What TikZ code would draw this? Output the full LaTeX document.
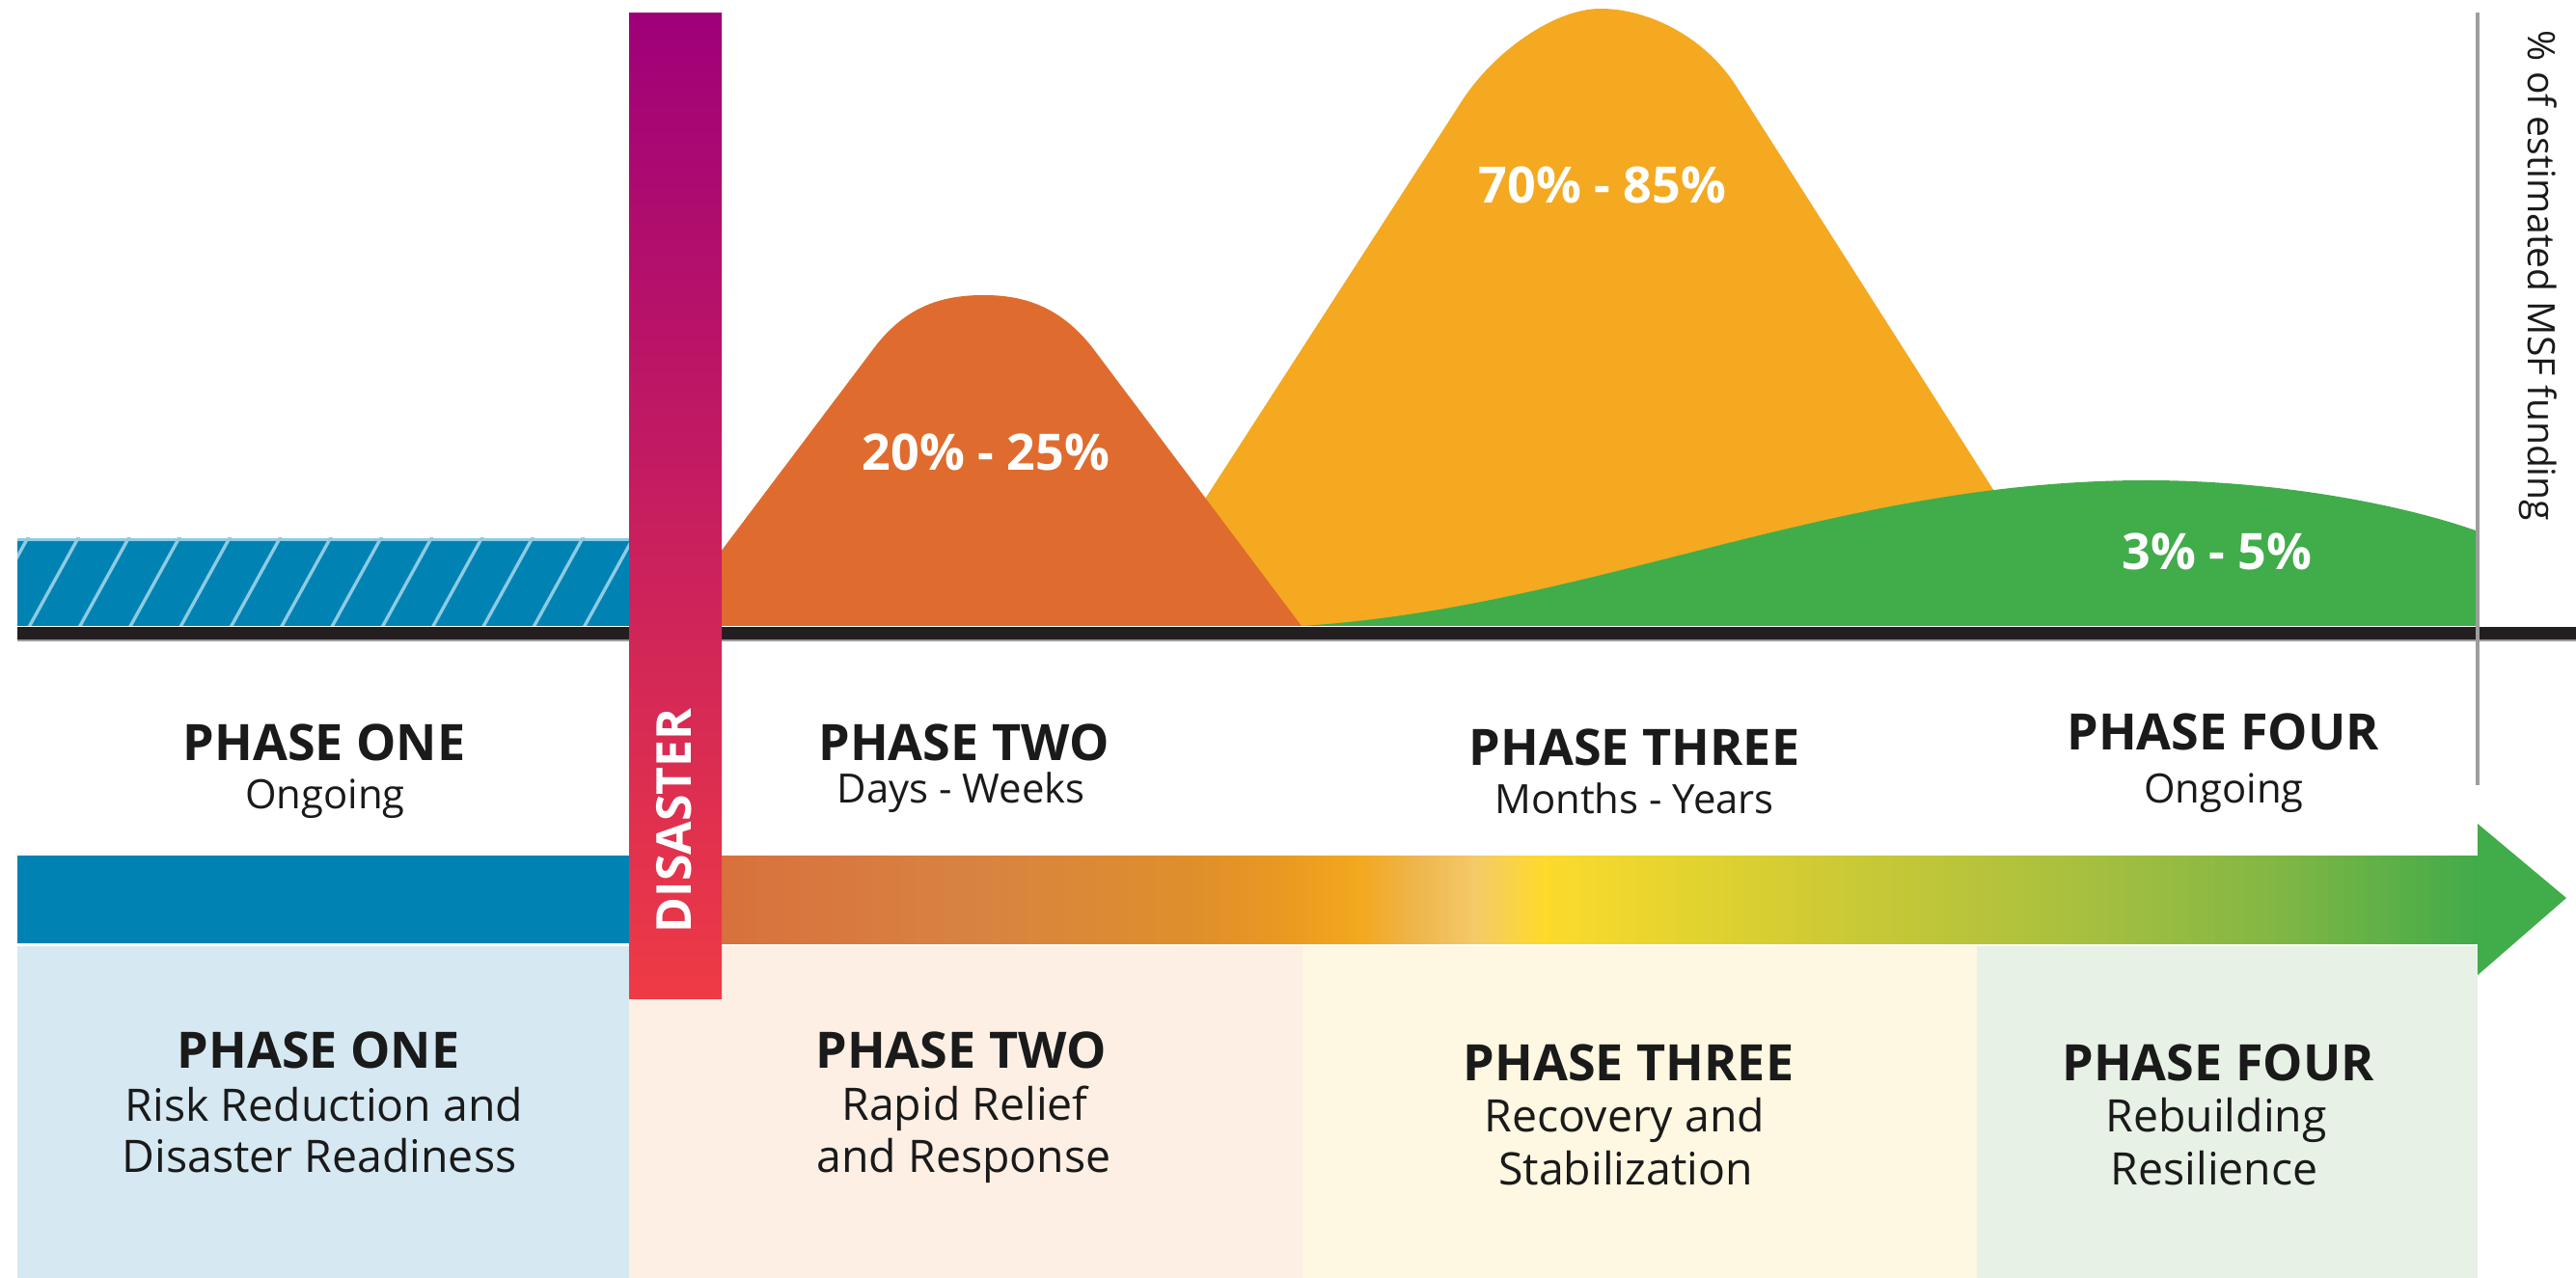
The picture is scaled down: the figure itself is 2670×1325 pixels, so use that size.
\documentclass[tikz,border=0pt]{standalone}
\usepackage{fontspec}
\setmainfont{Open Sans}
\definecolor{hatchblue}{HTML}{0083B3}
\definecolor{hatchline}{HTML}{8DCBE3}
\definecolor{orangeM}{HTML}{DF6C2E}
\definecolor{yellowM}{HTML}{F4A920}
\definecolor{greenM}{HTML}{41AC4A}
\definecolor{axisblack}{HTML}{231F20}
\definecolor{axisgray}{HTML}{9D9D9D}
\definecolor{boxone}{HTML}{D6E9F2}
\definecolor{boxtwo}{HTML}{FDEFE3}
\definecolor{boxthree}{HTML}{FEF7E1}
\definecolor{boxfour}{HTML}{E7F1E6}
\definecolor{disTop}{HTML}{9F0079}
\definecolor{disMid}{HTML}{C81D5F}
\definecolor{disBot}{HTML}{EE3B45}
\definecolor{txt}{HTML}{1A1A1A}
\definecolor{gA}{HTML}{D8713D}
\definecolor{gB}{HTML}{D88242}
\definecolor{gC}{HTML}{E08F2B}
\definecolor{gD}{HTML}{E99A22}
\definecolor{gE}{HTML}{F3A81E}
\definecolor{gF}{HTML}{EEB64E}
\definecolor{gG}{HTML}{F5CA68}
\definecolor{gH}{HTML}{FDDA2C}
\definecolor{gI}{HTML}{E3D32F}
\definecolor{gJ}{HTML}{CDCA35}
\definecolor{gK}{HTML}{A9C03F}
\definecolor{gL}{HTML}{84B744}
\definecolor{gM}{HTML}{41AB49}
\pgfdeclarehorizontalshading{phasegrad}{100bp}{color(0bp)=(gA); color(25bp)=(gA); color(31.92bp)=(gB); color(38.6bp)=(gC); color(40.99bp)=(gD); color(43.1bp)=(gE); color(44.84bp)=(gF); color(46.48bp)=(gG); color(48.41bp)=(gH); color(52.53bp)=(gI); color(56.65bp)=(gJ); color(63.52bp)=(gK); color(69.01bp)=(gL); color(75bp)=(gM); color(100bp)=(gM)}
\tikzset{
  head/.style={font=\bfseries\fontsize{14.8}{17}\selectfont, text=txt, anchor=base, inner sep=0pt},
  sub/.style={font=\fontsize{11.9}{14}\selectfont, text=txt, anchor=base, inner sep=0pt},
  body/.style={font=\fontsize{13.2}{15}\selectfont, text=txt, anchor=base, inner sep=0pt},
  pct/.style={font=\bfseries\fontsize{14.8}{17}\selectfont, text=white, anchor=base, inner sep=0pt}
}
\begin{document}
\begin{tikzpicture}[x=0.01cm, y=-0.01cm]
\useasboundingbox (0,0) rectangle (2670,1325);
\fill[white] (0,0) rectangle (2670,1325);
% bottom boxes
\fill[boxone] (18,981) rectangle (652,1325);
\fill[boxtwo] (652,981) rectangle (1350,1325);
\fill[boxthree] (1350,981) rectangle (2049,1325);
\fill[boxfour] (2049,981) rectangle (2568,1325);
% timeline bar
\fill[hatchblue] (18,887) rectangle (652,978);
\shade[shading=phasegrad] (748,887) rectangle (2568,978);
\fill[greenM] (2568,854) -- (2660,931) -- (2568,1011) -- cycle;
% funding curves
\fill[yellowM] (1164,649) -- (1515,105) .. controls (1547,55) and (1610,9) .. (1659,9) .. controls (1705,9) and (1765,35) .. (1800,90) -- (2156,649) -- cycle;
\fill[orangeM] (689,649) -- (905,362) .. controls (940,315) and (980,306) .. (1020,306) .. controls (1060,306) and (1100,317) .. (1135,364) -- (1349,649) -- cycle;
\fill[greenM] (1349,649) .. controls (1650,630) and (1900,498) .. (2225,498) .. controls (2350,498) and (2480,520) .. (2566,550) -- (2566,649) -- cycle;
% hatched phase one block
\begin{scope}
\clip (18,558) rectangle (652,649);
\fill[hatchblue] (18,558) rectangle (652,649);
\foreach \i in {-1,...,12} {
  \draw[hatchline, line width=0.034cm] ({29+52.3*\i},652) -- ++(53,-96);
}
\draw[hatchline, line width=0.03cm] (18,559.5) -- (652,559.5);
\end{scope}
% horizontal axis
\fill[axisblack] (18,650) rectangle (2670,663);
\fill[axisgray] (18,663) rectangle (2670,665);
% vertical axis
\draw[axisgray, line width=0.045cm] (2568,13) -- (2568,814);
\node[rotate=-90, font=\fontsize{11.1}{13}\selectfont, text=txt, inner sep=0pt] (yaxis) at (2631,286) {\% of estimated MSF funding};
% disaster bar
\shade[top color=disTop, middle color=disMid, bottom color=disBot] (652,14) rectangle (748,1035);
\node[rotate=90, font=\bfseries\fontsize{14.2}{16}\selectfont, text=white, inner sep=0pt] (dis) at (699,851) {DISASTER};
% percentages
\node[pct] (p2) at (1022,488) {20\% - 25\%};
\node[pct] (p3) at (1661,211) {70\% - 85\%};
\node[pct] (p4) at (2298,591) {3\% - 5\%};
% middle labels
\node[head] (m1h) at (336,788) {PHASE ONE};
\node[sub] (m1s) at (337,838) {Ongoing};
\node[head] (m2h) at (999,788) {PHASE TWO};
\node[sub] (m2s) at (996,832) {Days - Weeks};
\node[head] (m3h) at (1694,793) {PHASE THREE};
\node[sub] (m3s) at (1694,843) {Months - Years};
\node[head] (m4h) at (2304,777) {PHASE FOUR};
\node[sub] (m4s) at (2305,832) {Ongoing};
% bottom labels
\node[head] (b1h) at (330,1107) {PHASE ONE};
\node[body] (b1a) at (336,1162) {Risk Reduction and};
\node[body] (b1b) at (331,1215) {Disaster Readiness};
\node[head] (b2h) at (996,1107) {PHASE TWO};
\node[body] (b2a) at (1000,1161) {Rapid Relief};
\node[body] (b2b) at (999,1215) {and Response};
\node[head] (b3h) at (1688,1120) {PHASE THREE};
\node[body] (b3a) at (1684,1173) {Recovery and};
\node[body] (b3b) at (1685,1228) {Stabilization};
\node[head] (b4h) at (2299,1120) {PHASE FOUR};
\node[body] (b4a) at (2297,1173) {Rebuilding};
\node[body] (b4b) at (2295,1228) {Resilience};
\end{tikzpicture}
\end{document}
